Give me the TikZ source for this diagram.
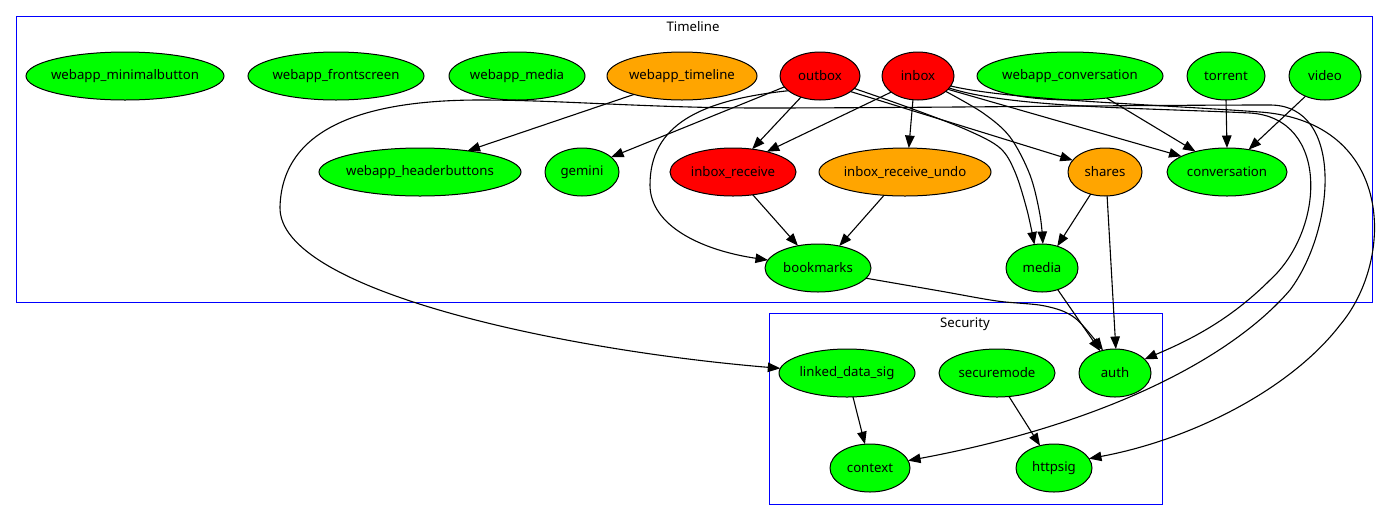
\documentclass[tikz,border=0pt]{standalone}
\usepackage{fontspec}
\setmainfont{Noto Sans}
\usetikzlibrary{arrows.meta,shapes.geometric}
\definecolor{gv green}{HTML}{00FF00}
\definecolor{gv red}{HTML}{FF0000}
\definecolor{gv orange}{HTML}{FFA500}
\definecolor{gv blue}{HTML}{0000FF}
\begin{document}
\begin{tikzpicture}[x=1pt,y=-1pt,
  nd/.style={ellipse, draw=black, line width=1pt, inner sep=0pt, outer sep=0pt,
    font=\fontsize{13.2}{15}\selectfont},
  gn/.style={nd, fill=gv green},
  rn/.style={nd, fill=gv red},
  on/.style={nd, fill=gv orange},
  cl/.style={draw=gv blue, line width=1pt},
  cllabel/.style={inner sep=0pt, font=\fontsize{13.2}{15}\selectfont},
  e/.style={draw=black, line width=1.1pt, -{Triangle[length=12.5pt,width=9.5pt]}},
  ee/.style={draw=black, line width=1.1pt, {Triangle[length=12.5pt,width=9.5pt]}-{Triangle[length=12.5pt,width=9.5pt]}}
]
\useasboundingbox (0,0) rectangle (1388,520);
\fill[white] (0,0) rectangle (1388,520);

% clusters
\draw[cl] (16,16) rectangle (1372,302);
\node[cllabel] (tl) at (693,27) {Timeline};
\draw[cl] (769,313) rectangle (1162,504);
\node[cllabel] (sl) at (965,324) {Security};

% row 1
\node[gn, minimum width=198pt, minimum height=48pt] (wmb) at (125,76) {\makebox[0pt]{webapp\_minimalbutton}};
\node[gn, minimum width=176pt, minimum height=48pt] (wfs) at (336,76) {\makebox[0pt]{webapp\_frontscreen}};
\node[gn, minimum width=136pt, minimum height=48pt] (wme) at (517,76) {\makebox[0pt]{webapp\_media}};
\node[on, minimum width=150pt, minimum height=48pt] (wtl) at (682,76) {\makebox[0pt]{webapp\_timeline}};
\node[rn, minimum width=80pt, minimum height=48pt] (out) at (820,76) {\makebox[0pt]{outbox}};
\node[rn, minimum width=72pt, minimum height=48pt] (inb) at (918,76) {\makebox[0pt]{inbox}};
\node[gn, minimum width=186pt, minimum height=48pt] (wco) at (1070,76) {\makebox[0pt]{webapp\_conversation}};
\node[gn, minimum width=78pt, minimum height=48pt] (tor) at (1226,76) {\makebox[0pt]{torrent}};
\node[gn, minimum width=72pt, minimum height=48pt] (vid) at (1325,76) {\makebox[0pt]{video}};

% row 2
\node[gn, minimum width=202pt, minimum height=48pt] (whb) at (420,172) {\makebox[0pt]{webapp\_headerbuttons}};
\node[gn, minimum width=74pt, minimum height=48pt] (gem) at (582,172) {\makebox[0pt]{gemini}};
\node[rn, minimum width=126pt, minimum height=48pt] (ire) at (733,172) {\makebox[0pt]{inbox\_receive}};
\node[on, minimum width=172pt, minimum height=48pt] (iru) at (905,172) {\makebox[0pt]{inbox\_receive\_undo}};
\node[on, minimum width=74pt, minimum height=48pt] (sha) at (1105,172) {\makebox[0pt]{shares}};
\node[gn, minimum width=120pt, minimum height=48pt] (con) at (1227,172) {\makebox[0pt]{conversation}};

% row 3
\node[gn, minimum width=106pt, minimum height=48pt] (bm) at (818,268) {\makebox[0pt]{bookmarks}};
\node[gn, minimum width=72pt, minimum height=48pt] (med) at (1042,268) {\makebox[0pt]{media}};

% security
\node[gn, minimum width=136pt, minimum height=48pt] (lds) at (847,373) {\makebox[0pt]{linked\_data\_sig}};
\node[gn, minimum width=116pt, minimum height=48pt] (sec) at (997,373) {\makebox[0pt]{securemode}};
\node[gn, minimum width=72pt, minimum height=48pt] (aut) at (1115,373) {\makebox[0pt]{auth}};
\node[gn, minimum width=80pt, minimum height=48pt] (ctx) at (870,468) {\makebox[0pt]{context}};
\node[gn, minimum width=76pt, minimum height=48pt] (hsg) at (1054,468) {\makebox[0pt]{httpsig}};

% straight edges
\draw[e] (wtl.201) -- (whb.24);
\draw[e] (out.197) -- (gem.27);
\draw[e] (out.228) -- (ire.50);
\draw[e] (inb.211) -- (ire.31);
\draw[e] (inb.258) -- (iru.81);
\draw[e] (ire.311) -- (bm.132);
\draw[e] (iru.228) -- (bm.46);
\draw[e] (out.333) -- (sha.160);
\draw[e] (sha.237) -- (med.55);
\draw[e] (sha.275) -- (aut.88);
\draw[e] (med.306) -- (aut.124);
\draw[e] (wco.329) -- (con.147);
\draw[e] (tor.270) -- (con.90);
\draw[e] (vid.226) -- (con.46);
\draw[e] (inb.336) -- (con.161);
\draw[e] (lds.284) -- (ctx.102);
\draw[e] (sec.297) -- (hsg.122);

% curved edges
\draw[e] (out.205) .. controls (700,100) and (650,125) .. (650,185)
  .. controls (650,225) and (700,250) .. (bm.171);
\draw[e] plot[smooth, tension=0.55] coordinates {(out.340) (910,108) (967,130) (1000,148) (1015,172) (1027,210) (med.108)};
\draw[e] plot[smooth, tension=0.55] coordinates {(inb.331) (983,113) (1010,137) (1030,175) (1040,215) (med.88)};
\draw[e] plot[smooth, tension=0.55] coordinates {(bm.348) (940,291) (997,301) (1045,306) (1075,318) (aut.118)};
\draw[e] (inb.339) .. controls (1010,108) and (1150,108) .. (1250,113)
  .. controls (1330,118) and (1325,230) .. (1270,280)
  .. controls (1230,320) and (1190,340) .. (aut.25);
\draw[e] (inb.343) .. controls (1010,100) and (1150,104) .. (1260,112)
  .. controls (1395,122) and (1395,260) .. (1340,325)
  .. controls (1290,390) and (1190,440) .. (hsg.15);
\draw[ee] (ctx.11) .. controls (1100,425) and (1230,360) .. (1290,290)
  .. controls (1335,230) and (1345,105) .. (1270,105)
  .. controls (1150,105) and (900,108) .. (760,108)
  .. controls (650,108) and (560,100) .. (480,100)
  .. controls (360,100) and (282,130) .. (280,207)
  .. controls (278,290) and (560,350) .. (lds.176);
\end{tikzpicture}
\end{document}
